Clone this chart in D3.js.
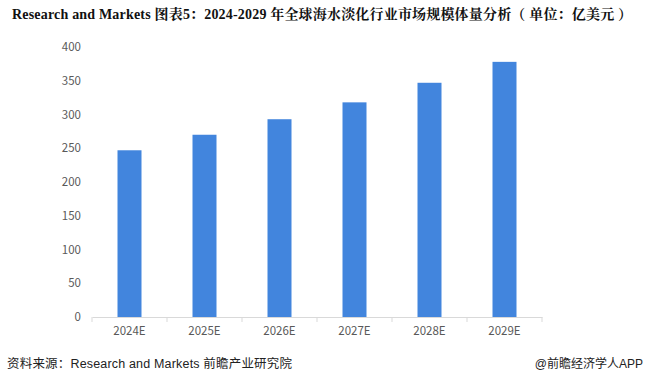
<!DOCTYPE html>
<html><head><meta charset="utf-8">
<script src="https://cdn.jsdelivr.net/npm/d3@7"></script>
<style>body{margin:0;background:#fff;}svg{display:block;}</style>
</head><body>
<svg id="c" width="651" height="376"></svg>
<script>
const categories = ["2024E","2025E","2026E","2027E","2028E","2029E"];
const values = [247, 270, 293, 318, 347, 378];
const yTicks = [0,50,100,150,200,250,300,350,400];
const title = "Research and Markets  图表5：2024-2029 年全球海水淡化行业市场规模体量分析（ 单位：亿美元 ）";
const source = "资料来源：Research and Markets 前瞻产业研究院";
const credit = "@前瞻经济学人APP";

(function(){
const svg = d3.select("#c");
const pLeft = 92, pRight = 542, pTop = 47, pBottom = 317;
const x = d3.scaleBand().domain(categories).range([pLeft, pRight]).paddingInner(0.68).paddingOuter(0.34);
const y = d3.scaleLinear().domain([0, 400]).range([pBottom, pTop]);

svg.append("text").attr("x", 12).attr("y", 19)
  .attr("font-family", "'Liberation Serif','Noto Serif CJK SC','Noto Sans CJK SC',serif")
  .attr("font-weight", "bold").attr("font-size", 14).attr("fill", "#111")
  .attr("textLength", 620).attr("lengthAdjust", "spacing").text(title);

const ya = svg.append("g").attr("transform", `translate(${pLeft},0)`)
  .call(d3.axisLeft(y).tickValues(yTicks).tickSize(0).tickPadding(11));
ya.select(".domain").remove();
ya.selectAll("text").attr("font-family", "'Microsoft YaHei','Noto Sans CJK SC','DejaVu Sans',sans-serif")
  .attr("font-size", 11.5).attr("fill", "#595959");

svg.append("g").selectAll("rect").data(values).join("rect")
  .attr("x", (d,i) => x(categories[i])).attr("width", x.bandwidth())
  .attr("y", d => y(d)).attr("height", d => y(0) - y(d)).attr("fill", "#4285dd");

const xa = svg.append("g").attr("transform", `translate(0,${pBottom})`)
  .call(d3.axisBottom(x).tickSize(0).tickPadding(10));
xa.select(".domain").attr("stroke", "#d9d9d9");
xa.selectAll("text").attr("font-family", "'Microsoft YaHei','Noto Sans CJK SC','DejaVu Sans',sans-serif")
  .attr("font-size", 11.5).attr("fill", "#595959");
const bounds = categories.map(c => x(c) - x.step()*x.paddingInner()/2).concat([pRight]);
xa.selectAll("line.b").data(bounds).join("line").attr("class","b")
  .attr("x1", d => d).attr("x2", d => d).attr("y1", 0).attr("y2", 5).attr("stroke", "#d9d9d9");

svg.append("text").attr("x", 7).attr("y", 368)
  .attr("font-family", "'Liberation Sans','Noto Sans CJK SC',sans-serif")
  .attr("font-size", 12.5).attr("fill", "#222")
  .attr("textLength", 285).attr("lengthAdjust", "spacing").text(source);
svg.append("text").attr("x", 643).attr("y", 368).attr("text-anchor", "end")
  .attr("font-family", "'Liberation Sans','Noto Sans CJK SC',sans-serif")
  .attr("font-size", 12).attr("fill", "#222").text(credit);
})();
</script>
</body></html>
